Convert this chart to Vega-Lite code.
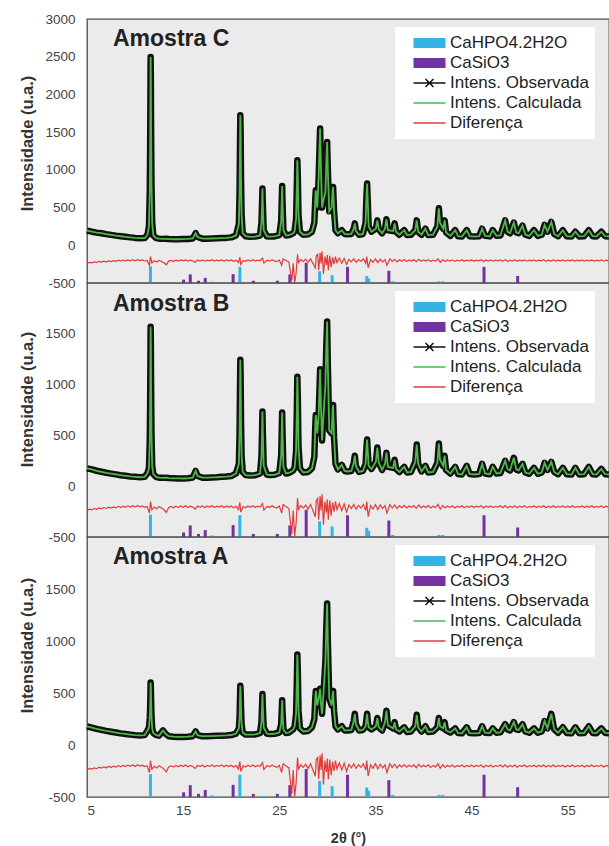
{
"$schema":"https://vega.github.io/schema/vega-lite/v6.json",
"padding":{"left":19,"top":11,"right":0,"bottom":0},
"bounds":"flush",
"spacing":0,
"datasets":{
"xrd":[
{"x":5.0,"C":195,"B":175,"A":180},
{"x":5.5,"C":180,"B":165,"A":168},
{"x":6.0,"C":168,"B":152,"A":155},
{"x":6.5,"C":160,"B":142,"A":146},
{"x":7.0,"C":148,"B":132,"A":136},
{"x":7.5,"C":138,"B":124,"A":128},
{"x":8.0,"C":128,"B":116,"A":120},
{"x":8.5,"C":120,"B":108,"A":112},
{"x":9.0,"C":112,"B":102,"A":106},
{"x":9.5,"C":105,"B":96,"A":100},
{"x":10.0,"C":98,"B":92,"A":95},
{"x":10.5,"C":94,"B":88,"A":92},
{"x":11.0,"C":96,"B":92,"A":95},
{"x":11.3,"C":140,"B":130,"A":140},
{"x":11.45,"C":260,"B":180,"A":170},
{"x":11.53,"C":700,"B":450,"A":260},
{"x":11.57,"C":1300,"B":820,"A":360},
{"x":11.6,"C":2000,"B":1260,"A":500},
{"x":11.62,"C":2497,"B":1570,"A":600},
{"x":11.64,"C":2250,"B":1420,"A":560},
{"x":11.67,"C":1500,"B":950,"A":420},
{"x":11.71,"C":800,"B":500,"A":280},
{"x":11.78,"C":300,"B":200,"A":160},
{"x":11.9,"C":130,"B":120,"A":115},
{"x":12.2,"C":95,"B":90,"A":95},
{"x":12.5,"C":88,"B":84,"A":90},
{"x":12.9,"C":85,"B":82,"A":140},
{"x":13.2,"C":86,"B":84,"A":105},
{"x":13.5,"C":82,"B":80,"A":85},
{"x":14.0,"C":80,"B":78,"A":80},
{"x":14.5,"C":80,"B":77,"A":78},
{"x":15.0,"C":82,"B":76,"A":78},
{"x":15.5,"C":84,"B":78,"A":80},
{"x":16.0,"C":90,"B":85,"A":85},
{"x":16.3,"C":160,"B":150,"A":130},
{"x":16.5,"C":110,"B":100,"A":95},
{"x":17.0,"C":88,"B":84,"A":84},
{"x":17.5,"C":88,"B":84,"A":85},
{"x":18.0,"C":90,"B":86,"A":86},
{"x":18.5,"C":92,"B":88,"A":88},
{"x":19.0,"C":95,"B":92,"A":90},
{"x":19.5,"C":98,"B":95,"A":92},
{"x":20.0,"C":105,"B":100,"A":96},
{"x":20.5,"C":130,"B":125,"A":110},
{"x":20.8,"C":280,"B":220,"A":160},
{"x":20.87,"C":700,"B":520,"A":260},
{"x":20.91,"C":1250,"B":900,"A":420},
{"x":20.95,"C":1724,"B":1245,"A":570},
{"x":20.98,"C":1500,"B":1080,"A":520},
{"x":21.02,"C":900,"B":650,"A":360},
{"x":21.08,"C":400,"B":300,"A":200},
{"x":21.2,"C":160,"B":140,"A":120},
{"x":21.5,"C":120,"B":110,"A":100},
{"x":22.0,"C":112,"B":105,"A":100},
{"x":22.5,"C":115,"B":108,"A":102},
{"x":23.0,"C":130,"B":125,"A":115},
{"x":23.15,"C":300,"B":290,"A":220},
{"x":23.22,"C":600,"B":580,"A":400},
{"x":23.25,"C":752,"B":735,"A":490},
{"x":23.29,"C":550,"B":540,"A":370},
{"x":23.38,"C":200,"B":200,"A":170},
{"x":23.7,"C":120,"B":115,"A":110},
{"x":24.0,"C":115,"B":110,"A":105},
{"x":24.5,"C":118,"B":112,"A":108},
{"x":25.0,"C":135,"B":130,"A":120},
{"x":25.2,"C":320,"B":300,"A":200},
{"x":25.27,"C":650,"B":600,"A":360},
{"x":25.3,"C":787,"B":725,"A":430},
{"x":25.34,"C":560,"B":520,"A":320},
{"x":25.43,"C":200,"B":190,"A":150},
{"x":25.7,"C":130,"B":125,"A":115},
{"x":26.0,"C":135,"B":130,"A":120},
{"x":26.3,"C":150,"B":145,"A":140},
{"x":26.45,"C":160,"B":155,"A":150},
{"x":26.6,"C":190,"B":185,"A":180},
{"x":26.75,"C":350,"B":340,"A":300},
{"x":26.83,"C":800,"B":760,"A":620},
{"x":26.88,"C":1127,"B":1078,"A":870},
{"x":26.93,"C":900,"B":860,"A":700},
{"x":27.0,"C":400,"B":390,"A":330},
{"x":27.15,"C":180,"B":175,"A":160},
{"x":27.5,"C":140,"B":135,"A":130},
{"x":28.0,"C":145,"B":140,"A":135},
{"x":28.4,"C":180,"B":175,"A":170},
{"x":28.65,"C":300,"B":290,"A":250},
{"x":28.75,"C":620,"B":600,"A":450},
{"x":28.8,"C":730,"B":700,"A":520},
{"x":28.95,"C":500,"B":520,"A":380},
{"x":29.1,"C":900,"B":700,"A":450},
{"x":29.2,"C":1350,"B":1000,"A":510},
{"x":29.25,"C":1547,"B":1150,"A":540},
{"x":29.32,"C":1100,"B":850,"A":420},
{"x":29.45,"C":500,"B":450,"A":300},
{"x":29.6,"C":600,"B":700,"A":500},
{"x":29.8,"C":700,"B":1000,"A":800},
{"x":29.9,"C":1100,"B":1400,"A":1150},
{"x":29.98,"C":1370,"B":1620,"A":1360},
{"x":30.05,"C":1000,"B":1200,"A":1000},
{"x":30.2,"C":450,"B":550,"A":450},
{"x":30.45,"C":500,"B":520,"A":380},
{"x":30.55,"C":720,"B":750,"A":480},
{"x":30.6,"C":773,"B":800,"A":520},
{"x":30.7,"C":450,"B":480,"A":330},
{"x":30.85,"C":200,"B":220,"A":180},
{"x":31.1,"C":160,"B":165,"A":150},
{"x":31.5,"C":200,"B":210,"A":180},
{"x":31.8,"C":150,"B":150,"A":140},
{"x":32.1,"C":145,"B":145,"A":140},
{"x":32.5,"C":150,"B":150,"A":145},
{"x":32.75,"C":220,"B":230,"A":230},
{"x":32.86,"C":290,"B":300,"A":300},
{"x":32.97,"C":190,"B":200,"A":200},
{"x":33.3,"C":140,"B":140,"A":140},
{"x":33.7,"C":150,"B":150,"A":145},
{"x":33.98,"C":300,"B":220,"A":180},
{"x":34.07,"C":650,"B":380,"A":250},
{"x":34.14,"C":818,"B":460,"A":300},
{"x":34.2,"C":600,"B":350,"A":230},
{"x":34.3,"C":250,"B":200,"A":170},
{"x":34.6,"C":180,"B":170,"A":150},
{"x":35.05,"C":220,"B":240,"A":180},
{"x":35.2,"C":330,"B":380,"A":260},
{"x":35.35,"C":210,"B":230,"A":170},
{"x":35.7,"C":160,"B":160,"A":140},
{"x":36.0,"C":220,"B":220,"A":220},
{"x":36.15,"C":345,"B":330,"A":330},
{"x":36.3,"C":200,"B":190,"A":190},
{"x":36.85,"C":190,"B":180,"A":160},
{"x":37.0,"C":290,"B":260,"A":220},
{"x":37.15,"C":180,"B":170,"A":150},
{"x":37.5,"C":140,"B":140,"A":130},
{"x":38.0,"C":200,"B":190,"A":170},
{"x":38.3,"C":135,"B":135,"A":125},
{"x":38.7,"C":140,"B":140,"A":130},
{"x":39.15,"C":200,"B":240,"A":180},
{"x":39.3,"C":330,"B":410,"A":290},
{"x":39.45,"C":180,"B":220,"A":170},
{"x":39.8,"C":140,"B":145,"A":130},
{"x":40.2,"C":220,"B":200,"A":180},
{"x":40.5,"C":135,"B":135,"A":125},
{"x":41.0,"C":140,"B":140,"A":130},
{"x":41.45,"C":250,"B":230,"A":170},
{"x":41.6,"C":490,"B":420,"A":260},
{"x":41.72,"C":300,"B":260,"A":180},
{"x":42.05,"C":220,"B":200,"A":160},
{"x":42.2,"C":330,"B":300,"A":220},
{"x":42.35,"C":170,"B":160,"A":140},
{"x":42.8,"C":125,"B":125,"A":120},
{"x":43.3,"C":200,"B":190,"A":160},
{"x":43.6,"C":120,"B":120,"A":115},
{"x":44.0,"C":115,"B":115,"A":112},
{"x":44.5,"C":200,"B":200,"A":170},
{"x":44.8,"C":120,"B":120,"A":115},
{"x":45.3,"C":115,"B":115,"A":112},
{"x":45.8,"C":120,"B":120,"A":115},
{"x":46.1,"C":220,"B":220,"A":180},
{"x":46.4,"C":125,"B":125,"A":118},
{"x":46.9,"C":118,"B":118,"A":115},
{"x":47.2,"C":200,"B":190,"A":160},
{"x":47.6,"C":125,"B":125,"A":118},
{"x":48.0,"C":130,"B":130,"A":122},
{"x":48.5,"C":330,"B":250,"A":200},
{"x":48.75,"C":180,"B":170,"A":150},
{"x":49.0,"C":160,"B":155,"A":140},
{"x":49.4,"C":300,"B":280,"A":220},
{"x":49.65,"C":170,"B":165,"A":150},
{"x":49.9,"C":160,"B":155,"A":145},
{"x":50.3,"C":260,"B":220,"A":200},
{"x":50.6,"C":140,"B":135,"A":130},
{"x":51.0,"C":125,"B":122,"A":118},
{"x":51.5,"C":200,"B":180,"A":160},
{"x":51.9,"C":125,"B":122,"A":118},
{"x":52.3,"C":140,"B":135,"A":130},
{"x":52.6,"C":270,"B":230,"A":230},
{"x":52.9,"C":180,"B":160,"A":160},
{"x":53.3,"C":310,"B":240,"A":300},
{"x":53.6,"C":150,"B":140,"A":150},
{"x":54.0,"C":120,"B":118,"A":118},
{"x":54.5,"C":200,"B":180,"A":170},
{"x":54.9,"C":120,"B":118,"A":116},
{"x":55.4,"C":115,"B":114,"A":112},
{"x":55.8,"C":180,"B":180,"A":170},
{"x":56.2,"C":118,"B":116,"A":114},
{"x":56.7,"C":120,"B":118,"A":115},
{"x":57.2,"C":200,"B":190,"A":180},
{"x":57.6,"C":120,"B":118,"A":116},
{"x":58.0,"C":118,"B":116,"A":114},
{"x":58.5,"C":180,"B":170,"A":160},
{"x":58.9,"C":120,"B":118,"A":116},
{"x":59.3,"C":118,"B":116,"A":114}
],
"diff":[
{"x":5.0,"d":-238},{"x":5.25,"d":-226},{"x":5.5,"d":-232},{"x":5.75,"d":-220},{"x":6.0,"d":-228},{"x":6.25,"d":-214},{"x":6.5,"d":-222},{"x":6.75,"d":-210},
{"x":7.0,"d":-219},{"x":7.25,"d":-206},{"x":7.5,"d":-215},{"x":7.75,"d":-203},{"x":8.0,"d":-212},{"x":8.25,"d":-198},{"x":8.5,"d":-210},{"x":8.75,"d":-196},
{"x":9.0,"d":-207},{"x":9.25,"d":-193},{"x":9.5,"d":-205},{"x":9.75,"d":-192},{"x":10.0,"d":-206},{"x":10.25,"d":-190},{"x":10.5,"d":-203},{"x":10.75,"d":-194},
{"x":11.0,"d":-208},{"x":11.25,"d":-200},{"x":11.5,"d":-265},{"x":11.6,"d":-150},{"x":11.75,"d":-232},{"x":12.0,"d":-205},{"x":12.25,"d":-222},{"x":12.5,"d":-200},
{"x":12.75,"d":-214},{"x":13.0,"d":-232},{"x":13.25,"d":-258},{"x":13.5,"d":-210},{"x":13.75,"d":-200},{"x":14.0,"d":-212},{"x":14.25,"d":-197},{"x":14.5,"d":-209},
{"x":14.75,"d":-195},{"x":15.0,"d":-207},{"x":15.25,"d":-193},{"x":15.5,"d":-210},{"x":15.75,"d":-196},{"x":16.0,"d":-206},{"x":16.25,"d":-225},{"x":16.5,"d":-195},
{"x":16.75,"d":-208},{"x":17.0,"d":-194},{"x":17.25,"d":-211},{"x":17.5,"d":-197},{"x":17.75,"d":-206},{"x":18.0,"d":-192},{"x":18.25,"d":-209},{"x":18.5,"d":-196},
{"x":18.75,"d":-205},{"x":19.0,"d":-193},{"x":19.25,"d":-210},{"x":19.5,"d":-195},{"x":19.75,"d":-207},{"x":20.0,"d":-194},{"x":20.25,"d":-212},{"x":20.5,"d":-198},
{"x":20.75,"d":-230},{"x":20.9,"d":-160},{"x":21.0,"d":-255},{"x":21.25,"d":-200},{"x":21.5,"d":-212},{"x":21.75,"d":-195},{"x":22.0,"d":-208},{"x":22.25,"d":-192},
{"x":22.5,"d":-210},{"x":22.75,"d":-196},{"x":23.0,"d":-205},{"x":23.25,"d":-170},{"x":23.4,"d":-235},{"x":23.75,"d":-198},{"x":24.0,"d":-210},{"x":24.25,"d":-193},
{"x":24.5,"d":-206},{"x":24.75,"d":-215},{"x":25.0,"d":-196},{"x":25.25,"d":-265},{"x":25.4,"d":-180},{"x":25.75,"d":-205},{"x":26.0,"d":-220},{"x":26.3,"d":-470},
{"x":26.45,"d":-240},{"x":26.6,"d":-495},{"x":26.75,"d":-370},{"x":26.9,"d":-120},{"x":27.0,"d":-230},{"x":27.25,"d":-190},{"x":27.5,"d":-215},{"x":27.75,"d":-185},
{"x":28.0,"d":-225},{"x":28.25,"d":-180},{"x":28.5,"d":-240},{"x":28.75,"d":-300},{"x":28.85,"d":-140},{"x":29.0,"d":-120},{"x":29.1,"d":-330},{"x":29.25,"d":-100},
{"x":29.35,"d":-240},{"x":29.45,"d":-80},{"x":29.6,"d":-380},{"x":29.75,"d":-150},{"x":29.9,"d":-260},{"x":30.0,"d":-130},{"x":30.1,"d":-330},{"x":30.25,"d":-140},
{"x":30.4,"d":-290},{"x":30.55,"d":-160},{"x":30.7,"d":-250},{"x":30.85,"d":-150},{"x":31.0,"d":-230},{"x":31.25,"d":-170},{"x":31.5,"d":-240},{"x":31.75,"d":-175},
{"x":32.0,"d":-255},{"x":32.25,"d":-185},{"x":32.5,"d":-220},{"x":32.75,"d":-180},{"x":33.0,"d":-225},{"x":33.25,"d":-190},{"x":33.5,"d":-215},{"x":33.75,"d":-180},
{"x":34.0,"d":-240},{"x":34.1,"d":-150},{"x":34.25,"d":-300},{"x":34.5,"d":-190},{"x":34.75,"d":-225},{"x":35.0,"d":-180},{"x":35.25,"d":-230},{"x":35.5,"d":-185},
{"x":35.75,"d":-220},{"x":36.0,"d":-190},{"x":36.2,"d":-265},{"x":36.5,"d":-180},{"x":36.75,"d":-215},{"x":37.0,"d":-185},{"x":37.25,"d":-220},{"x":37.5,"d":-192},
{"x":37.75,"d":-212},{"x":38.0,"d":-188},{"x":38.25,"d":-214},{"x":38.5,"d":-195},{"x":38.75,"d":-210},{"x":39.0,"d":-190},{"x":39.25,"d":-218},{"x":39.5,"d":-185},
{"x":39.75,"d":-212},{"x":40.0,"d":-195},{"x":40.25,"d":-210},{"x":40.5,"d":-190},{"x":40.75,"d":-215},{"x":41.0,"d":-196},{"x":41.25,"d":-212},{"x":41.5,"d":-180},
{"x":41.75,"d":-225},{"x":42.0,"d":-190},{"x":42.25,"d":-215},{"x":42.5,"d":-195},{"x":42.75,"d":-210},{"x":43.0,"d":-193},{"x":43.25,"d":-214},{"x":43.5,"d":-197},
{"x":43.75,"d":-208},{"x":44.0,"d":-192},{"x":44.25,"d":-212},{"x":44.5,"d":-196},{"x":44.75,"d":-207},{"x":45.0,"d":-194},{"x":45.25,"d":-210},{"x":45.5,"d":-197},
{"x":45.75,"d":-206},{"x":46.0,"d":-192},{"x":46.25,"d":-215},{"x":46.5,"d":-195},{"x":46.75,"d":-208},{"x":47.0,"d":-194},{"x":47.25,"d":-211},{"x":47.5,"d":-198},
{"x":47.75,"d":-206},{"x":48.0,"d":-193},{"x":48.25,"d":-212},{"x":48.5,"d":-190},{"x":48.75,"d":-214},{"x":49.0,"d":-196},{"x":49.25,"d":-209},{"x":49.5,"d":-192},
{"x":49.75,"d":-213},{"x":50.0,"d":-197},{"x":50.25,"d":-207},{"x":50.5,"d":-193},{"x":50.75,"d":-211},{"x":51.0,"d":-198},{"x":51.25,"d":-206},{"x":51.5,"d":-194},
{"x":51.75,"d":-210},{"x":52.0,"d":-197},{"x":52.25,"d":-207},{"x":52.5,"d":-192},{"x":52.75,"d":-212},{"x":53.0,"d":-196},{"x":53.25,"d":-209},{"x":53.5,"d":-193},
{"x":53.75,"d":-210},{"x":54.0,"d":-198},{"x":54.25,"d":-206},{"x":54.5,"d":-194},{"x":54.75,"d":-211},{"x":55.0,"d":-197},{"x":55.25,"d":-207},{"x":55.5,"d":-193},
{"x":55.75,"d":-210},{"x":56.0,"d":-198},{"x":56.25,"d":-206},{"x":56.5,"d":-194},{"x":56.75,"d":-211},{"x":57.0,"d":-197},{"x":57.25,"d":-207},{"x":57.5,"d":-193},
{"x":57.75,"d":-210},{"x":58.0,"d":-198},{"x":58.25,"d":-206},{"x":58.5,"d":-194},{"x":58.75,"d":-211},{"x":59.0,"d":-197},{"x":59.25,"d":-206}
],
"bars":[
{"x":11.6,"v":-280,"s":"CaHPO4.2H2O"},
{"x":18.0,"v":-485,"s":"CaHPO4.2H2O"},
{"x":20.9,"v":-286,"s":"CaHPO4.2H2O"},
{"x":23.4,"v":-490,"s":"CaHPO4.2H2O"},
{"x":29.2,"v":-345,"s":"CaHPO4.2H2O"},
{"x":30.5,"v":-396,"s":"CaHPO4.2H2O"},
{"x":34.1,"v":-409,"s":"CaHPO4.2H2O"},
{"x":34.3,"v":-440,"s":"CaHPO4.2H2O"},
{"x":36.8,"v":-480,"s":"CaHPO4.2H2O"},
{"x":41.6,"v":-480,"s":"CaHPO4.2H2O"},
{"x":42.0,"v":-480,"s":"CaHPO4.2H2O"},
{"x":15.05,"v":-455,"s":"CaSiO3"},
{"x":15.74,"v":-386,"s":"CaSiO3"},
{"x":16.6,"v":-470,"s":"CaSiO3"},
{"x":17.3,"v":-432,"s":"CaSiO3"},
{"x":20.2,"v":-383,"s":"CaSiO3"},
{"x":22.3,"v":-470,"s":"CaSiO3"},
{"x":24.8,"v":-470,"s":"CaSiO3"},
{"x":26.1,"v":-386,"s":"CaSiO3"},
{"x":27.8,"v":-231,"s":"CaSiO3"},
{"x":32.1,"v":-286,"s":"CaSiO3"},
{"x":36.4,"v":-338,"s":"CaSiO3"},
{"x":46.3,"v":-286,"s":"CaSiO3"},
{"x":49.8,"v":-406,"s":"CaSiO3"}
]
},
"config":{
"font":"Liberation Sans",
"view":{"stroke":"#4a4a4a","strokeWidth":1.3,"fill":"#ebebeb"},
"axis":{"grid":false,"ticks":false,"domain":false,"labelOverlap":false,"tickCount":20,"labelFont":"Liberation Sans","labelFontSize":13.5,"labelColor":"#444","titleFont":"Liberation Sans","titleFontSize":16.5,"titleFontWeight":"bold","titleColor":"#333"},
"axisY":{"labelPadding":12,"titlePadding":9},
"axisX":{"labelPadding":6,"titlePadding":15,"titleFontSize":14.5},
"legend":{"fillColor":"#ffffff","padding":6,"labelFontSize":17,"labelFont":"Liberation Sans","labelColor":"#222","symbolSize":1024,"symbolType":"stroke","symbolOffset":20,"labelOffset":12,"rowPadding":0,"clipHeight":20}
},
"resolve":{"scale":{"y":"independent","color":"independent"},"legend":{"color":"independent"}},
"vconcat":[
{
"width":522,"height":264,
"title":{"text":"Amostra C","anchor":"start","frame":"group","offset":-27,"dx":26,"dy":30,"baseline":"alphabetic","fontSize":23,"fontWeight":"bold","font":"Liberation Sans","color":"#222"},
"encoding":{"x":{"field":"x","type":"quantitative","scale":{"domain":[5,59.3],"nice":false,"zero":false},"axis":null}},
"layer":[
{"data":{"name":"bars"},"mark":{"type":"rule","strokeWidth":3},
"encoding":{"y":{"field":"v","type":"quantitative","title":"Intensidade (u.a.)","scale":{"domain":[-500,3000],"nice":false,"zero":false},"axis":{"values":[-500,0,500,1000,1500,2000,2500,3000],"tickCount":20,"labelExpr":"'' + datum.value","titleY":124}},"y2":{"datum":-500},
"color":{"field":"s","type":"nominal","title":null,"scale":{"domain":["CaHPO4.2H2O","CaSiO3","Intens. Observada","Intens. Calculada","Diferença"],"range":["#35b3e5","#7332a0","#111111","#4db848","#e03c3c"]},
"legend":{"orient":"none","legendX":308,"legendY":8,"encode":{"symbols":{"update":{"shape":{"signal":"datum.value === 'Intens. Observada' ? 'M-1,0H1M-0.25,-0.25L0.25,0.25M-0.25,0.25L0.25,-0.25' : 'M-1,0H1'"},"strokeWidth":{"signal":"(datum.value === 'CaHPO4.2H2O' || datum.value === 'CaSiO3') ? 10 : 1.5"}}}}}}}},
{"data":{"name":"diff"},"mark":{"type":"line","strokeWidth":1.2},"encoding":{"y":{"field":"d","type":"quantitative","title":"Intensidade (u.a.)"},"color":{"datum":"Diferença","type":"nominal"}}},
{"data":{"name":"xrd"},"mark":{"type":"line","strokeWidth":6.5,"strokeJoin":"round"},"encoding":{"y":{"field":"C","type":"quantitative","title":"Intensidade (u.a.)"},"color":{"datum":"Intens. Observada","type":"nominal"}}},
{"data":{"name":"xrd"},"transform":[{"filter":"datum.C >= 300"}],"mark":{"type":"point","shape":"cross","angle":45,"size":28,"filled":true,"color":"#111111","opacity":1},"encoding":{"y":{"field":"C","type":"quantitative","title":"Intensidade (u.a.)"}}},
{"data":{"name":"xrd"},"mark":{"type":"line","strokeWidth":1.8},"encoding":{"y":{"field":"C","type":"quantitative","title":"Intensidade (u.a.)"},"color":{"datum":"Intens. Calculada","type":"nominal"}}}
]
},
{
"width":522,"height":254,
"title":{"text":"Amostra B","anchor":"start","frame":"group","offset":-27,"dx":26,"dy":24,"baseline":"alphabetic","fontSize":23,"fontWeight":"bold","font":"Liberation Sans","color":"#222"},
"encoding":{"x":{"field":"x","type":"quantitative","scale":{"domain":[5,59.3],"nice":false,"zero":false},"axis":null}},
"layer":[
{"data":{"name":"bars"},"mark":{"type":"rule","strokeWidth":3},
"encoding":{"y":{"field":"v","type":"quantitative","title":"Intensidade (u.a.)","scale":{"domain":[-500,2000],"nice":false,"zero":false},"axis":{"values":[-500,0,500,1000,1500],"tickCount":20,"labelExpr":"'' + datum.value","titleY":116}},"y2":{"datum":-500},
"color":{"field":"s","type":"nominal","title":null,"scale":{"domain":["CaHPO4.2H2O","CaSiO3","Intens. Observada","Intens. Calculada","Diferença"],"range":["#35b3e5","#7332a0","#111111","#4db848","#e03c3c"]},
"legend":{"orient":"none","legendX":308,"legendY":8,"encode":{"symbols":{"update":{"shape":{"signal":"datum.value === 'Intens. Observada' ? 'M-1,0H1M-0.25,-0.25L0.25,0.25M-0.25,0.25L0.25,-0.25' : 'M-1,0H1'"},"strokeWidth":{"signal":"(datum.value === 'CaHPO4.2H2O' || datum.value === 'CaSiO3') ? 10 : 1.5"}}}}}}}},
{"data":{"name":"diff"},"mark":{"type":"line","strokeWidth":1.2},"encoding":{"y":{"field":"d","type":"quantitative","title":"Intensidade (u.a.)"},"color":{"datum":"Diferença","type":"nominal"}}},
{"data":{"name":"xrd"},"mark":{"type":"line","strokeWidth":6.5,"strokeJoin":"round"},"encoding":{"y":{"field":"B","type":"quantitative","title":"Intensidade (u.a.)"},"color":{"datum":"Intens. Observada","type":"nominal"}}},
{"data":{"name":"xrd"},"transform":[{"filter":"datum.B >= 300"}],"mark":{"type":"point","shape":"cross","angle":45,"size":28,"filled":true,"color":"#111111","opacity":1},"encoding":{"y":{"field":"B","type":"quantitative","title":"Intensidade (u.a.)"}}},
{"data":{"name":"xrd"},"mark":{"type":"line","strokeWidth":1.8},"encoding":{"y":{"field":"B","type":"quantitative","title":"Intensidade (u.a.)"},"color":{"datum":"Intens. Calculada","type":"nominal"}}}
]
},
{
"width":522,"height":260,
"title":{"text":"Amostra A","anchor":"start","frame":"group","offset":-27,"dx":26,"dy":23,"baseline":"alphabetic","fontSize":23,"fontWeight":"bold","font":"Liberation Sans","color":"#222"},
"encoding":{"x":{"field":"x","type":"quantitative","scale":{"domain":[5,59.3],"nice":false,"zero":false},"axis":{"values":[5,15,25,35,45,55],"tickCount":20,"title":"2θ (°)"}}},
"layer":[
{"data":{"name":"bars"},"mark":{"type":"rule","strokeWidth":3},
"encoding":{"y":{"field":"v","type":"quantitative","title":"Intensidade (u.a.)","scale":{"domain":[-500,2000],"nice":false,"zero":false},"axis":{"values":[-500,0,500,1000,1500],"tickCount":20,"labelExpr":"'' + datum.value","titleY":108}},"y2":{"datum":-500},
"color":{"field":"s","type":"nominal","title":null,"scale":{"domain":["CaHPO4.2H2O","CaSiO3","Intens. Observada","Intens. Calculada","Diferença"],"range":["#35b3e5","#7332a0","#111111","#4db848","#e03c3c"]},
"legend":{"orient":"none","legendX":308,"legendY":8,"encode":{"symbols":{"update":{"shape":{"signal":"datum.value === 'Intens. Observada' ? 'M-1,0H1M-0.25,-0.25L0.25,0.25M-0.25,0.25L0.25,-0.25' : 'M-1,0H1'"},"strokeWidth":{"signal":"(datum.value === 'CaHPO4.2H2O' || datum.value === 'CaSiO3') ? 10 : 1.5"}}}}}}}},
{"data":{"name":"diff"},"mark":{"type":"line","strokeWidth":1.2},"encoding":{"y":{"field":"d","type":"quantitative","title":"Intensidade (u.a.)"},"color":{"datum":"Diferença","type":"nominal"}}},
{"data":{"name":"xrd"},"mark":{"type":"line","strokeWidth":6.5,"strokeJoin":"round"},"encoding":{"y":{"field":"A","type":"quantitative","title":"Intensidade (u.a.)"},"color":{"datum":"Intens. Observada","type":"nominal"}}},
{"data":{"name":"xrd"},"transform":[{"filter":"datum.A >= 300"}],"mark":{"type":"point","shape":"cross","angle":45,"size":28,"filled":true,"color":"#111111","opacity":1},"encoding":{"y":{"field":"A","type":"quantitative","title":"Intensidade (u.a.)"}}},
{"data":{"name":"xrd"},"mark":{"type":"line","strokeWidth":1.8},"encoding":{"y":{"field":"A","type":"quantitative","title":"Intensidade (u.a.)"},"color":{"datum":"Intens. Calculada","type":"nominal"}}}
]
}
]
}
